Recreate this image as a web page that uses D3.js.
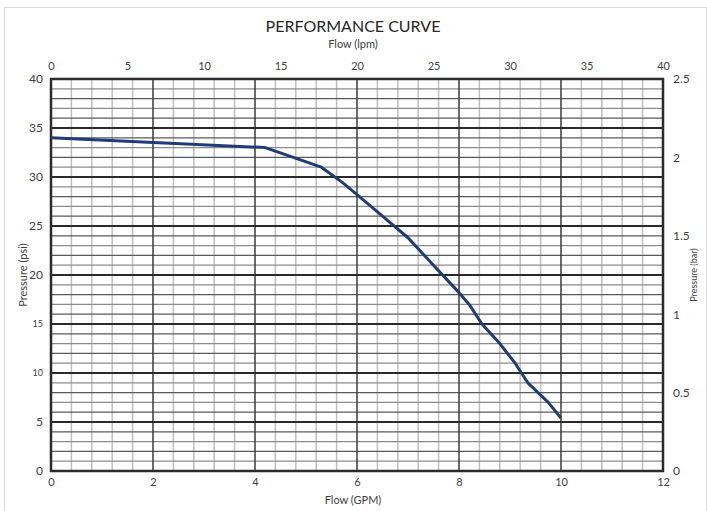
<!DOCTYPE html>
<html>
<head>
<meta charset="utf-8">
<script src="https://cdn.jsdelivr.net/npm/d3@7"></script>
<style>
  body { margin: 0; background: #fff; }
  svg { display: block; font-family: Lato, "Open Sans", sans-serif; }
</style>
</head>
<body>
<svg id="chart" width="707" height="511"></svg>
<script>
// curve (flow in GPM, pressure in psi)
const flowGpm = [0, 4.2, 5.3, 5.7, 6.0, 6.5, 7.0, 7.5, 8.0, 8.2, 8.45, 8.8, 9.1, 9.35, 9.75, 10.0];
const pressurePsi = [34, 33, 31, 29.5, 28.2, 26, 23.8, 21, 18.2, 17, 15, 13, 11, 9, 7, 5.4];

const gpmTicks = [0, 2, 4, 6, 8, 10, 12];
const lpmTicks = [0, 5, 10, 15, 20, 25, 30, 35, 40];
const psiTicks = [0, 5, 10, 15, 20, 25, 30, 35, 40];
const barTicks = [0, 0.5, 1, 1.5, 2, 2.5];
const barTickLabels = ['0', '0.5', '1', '1.5', '2', '2.5'];

const width = 707, height = 511;
const margin = { top: 79, right: 44, bottom: 40, left: 51 };
const svg = d3.select('#chart');

const x = d3.scaleLinear().domain([0, 12]).range([margin.left, width - margin.right]);
const xTop = d3.scaleLinear().domain([0, 40]).range([margin.left, width - margin.right]);
const y = d3.scaleLinear().domain([0, 40]).range([height - margin.bottom, margin.top]);
const yBar = d3.scaleLinear().domain([0, 2.5]).range([height - margin.bottom, margin.top]);

// outer chart frame
svg.append('rect')
    .attr('x', 4.5).attr('y', 7.5)
    .attr('width', width - 5).attr('height', height - 5)
    .attr('fill', 'none').attr('stroke', '#d9d9d9');

const grid = svg.append('g');

// minor verticals every 0.4 GPM
grid.selectAll('line.vminor')
    .data(d3.range(0, 12.001, 0.4).filter(v => Math.abs(v / 2 - Math.round(v / 2)) > 0.01))
    .enter().append('line')
    .attr('x1', d => x(d)).attr('x2', d => x(d))
    .attr('y1', y(0)).attr('y2', y(40))
    .attr('stroke', '#bfbfbf').attr('stroke-width', 1.5);

// minor horizontals every 1 psi
grid.selectAll('line.hminor')
    .data(d3.range(1, 40).filter(v => v % 5 !== 0))
    .enter().append('line')
    .attr('x1', x(0)).attr('x2', x(12))
    .attr('y1', d => y(d)).attr('y2', d => y(d))
    .attr('stroke', d => d % 2 ? '#8c8c8c' : '#5a5a5a').attr('stroke-width', 1.3);

// major lines
grid.selectAll('line.vmajor')
    .data(gpmTicks.slice(1, -1))
    .enter().append('line')
    .attr('x1', d => x(d)).attr('x2', d => x(d))
    .attr('y1', y(0)).attr('y2', y(40))
    .attr('stroke', '#3a3a3a').attr('stroke-width', 1.5);

grid.selectAll('line.hmajor')
    .data(psiTicks.slice(1, -1))
    .enter().append('line')
    .attr('x1', x(0)).attr('x2', x(12))
    .attr('y1', d => y(d)).attr('y2', d => y(d))
    .attr('stroke', '#2a2a2a').attr('stroke-width', 1.8);

// plot frame
svg.append('rect')
    .attr('x', x(0)).attr('y', y(40))
    .attr('width', x(12) - x(0)).attr('height', y(0) - y(40))
    .attr('fill', 'none').attr('stroke', '#2b2b2b').attr('stroke-width', 2.5);

// curve
const curve = flowGpm.map((g, i) => [g, pressurePsi[i]]);
svg.append('path')
    .datum(curve)
    .attr('fill', 'none')
    .attr('stroke', '#1f3c78')
    .attr('stroke-width', 3)
    .attr('stroke-linejoin', 'round')
    .attr('d', d3.line().x(d => x(d[0])).y(d => y(d[1])));

// axes (labels only, domain and tick marks hidden)
const txt = '#404040';
function styleAxis(g, size) {
    g.select('.domain').remove();
    g.selectAll('.tick line').remove();
    g.selectAll('.tick text').attr('fill', txt).attr('font-family', 'Lato, "Open Sans", sans-serif')
        .attr('font-size', size);
}

svg.append('g')
    .attr('transform', `translate(0,${y(0) + 4})`)
    .call(d3.axisBottom(x).tickValues(gpmTicks).tickFormat(d3.format('d')).tickSize(0))
    .call(g => styleAxis(g, 11));

svg.append('g')
    .attr('transform', `translate(0,${y(40) - 6})`)
    .call(d3.axisTop(xTop).tickValues(lpmTicks).tickFormat(d3.format('d')).tickSize(0))
    .call(g => styleAxis(g, 11));

const leftAxis = svg.append('g')
    .attr('transform', `translate(${x(0) - 5},0)`)
    .call(d3.axisLeft(y).tickValues(psiTicks).tickFormat(d3.format('d')).tickSize(0))
    .call(g => styleAxis(g, 12));
// the 10 and 15 labels are drawn smaller in the original
leftAxis.selectAll('.tick text').filter(d => d === 10 || d === 15).attr('font-size', 9);

svg.append('g')
    .attr('transform', `translate(${x(12) + 7},0)`)
    .call(d3.axisRight(yBar).tickValues(barTicks).tickFormat((d, i) => barTickLabels[i]).tickSize(0))
    .call(g => styleAxis(g, 12));

// titles
svg.append('text')
    .attr('x', 353).attr('y', 32)
    .attr('text-anchor', 'middle').attr('fill', '#262626')
    .attr('font-size', 16)
    .text('PERFORMANCE CURVE');

svg.append('text')
    .attr('x', 353).attr('y', 48)
    .attr('text-anchor', 'middle').attr('fill', txt)
    .attr('font-size', 11)
    .text('Flow (lpm)');

svg.append('text')
    .attr('x', 353).attr('y', 504)
    .attr('text-anchor', 'middle').attr('fill', txt)
    .attr('font-size', 11)
    .text('Flow (GPM)');

svg.append('text')
    .attr('transform', `translate(27,${(y(0) + y(40)) / 2}) rotate(-90)`)
    .attr('text-anchor', 'middle').attr('fill', txt)
    .attr('font-size', 11)
    .text('Pressure (psi)');

svg.append('text')
    .attr('transform', `translate(697,${(y(0) + y(40)) / 2}) rotate(-90)`)
    .attr('text-anchor', 'middle').attr('fill', txt)
    .attr('font-size', 9)
    .text('Pressure (bar)');
</script>
</body>
</html>
